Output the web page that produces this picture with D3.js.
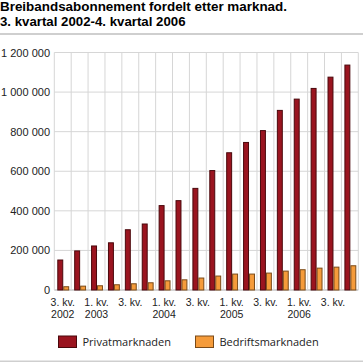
<!DOCTYPE html>
<html>
<head>
<meta charset="utf-8">
<script src="https://cdn.jsdelivr.net/npm/d3@7/dist/d3.min.js"></script>
<style>
	body { margin: 0; background: #fff; }
	text { font-family: 'Open Sans', sans-serif; }
	.tick-label, .title { font-family: 'Liberation Sans', Arial, sans-serif; }
</style>
</head>
<body>
<div id="chart"></div>
<script>
const quarters = ['2002K3', '2002K4', '2003K1', '2003K2', '2003K3', '2003K4', '2004K1', '2004K2', '2004K3',
	'2004K4', '2005K1', '2005K2', '2005K3', '2005K4', '2006K1', '2006K2', '2006K3', '2006K4']
const privat = [154000, 200000, 225000, 241000, 307000, 336000, 429000, 454000, 516000,
	606000, 696000, 748000, 808000, 910000, 967000, 1021000, 1078000, 1139000]
const bedrift = [19000, 22000, 24000, 29000, 34000, 39000, 49000, 54000, 63000,
	73000, 83000, 83000, 88000, 98000, 105000, 113000, 118000, 125000]
const seriesNames = ['Privatmarknaden', 'Bedriftsmarknaden']
const yTicks = [0, 200000, 400000, 600000, 800000, 1000000, 1200000]

const colors = { fill: ['#9a141f', '#f59b3a'], stroke: ['#4a080c', '#7a4a18'] }

const width = 363, height = 363
const svg = d3.select('#chart').append('svg').attr('width', width).attr('height', height)

// title
svg.append('text').attr('class', 'title').attr('x', 0).attr('y', 11.3).attr('font-weight', 'bold').attr('font-size', '12.6px')
	.attr('textLength', 287).attr('lengthAdjust', 'spacingAndGlyphs')
	.text('Breibandsabonnement fordelt etter marknad.')
svg.append('text').attr('class', 'title').attr('x', 0).attr('y', 26.3).attr('font-weight', 'bold').attr('font-size', '12.6px')
	.attr('textLength', 185.5).attr('lengthAdjust', 'spacingAndGlyphs')
	.text('3. kvartal 2002-4. kvartal 2006')
svg.append('rect').attr('x', 0).attr('y', 33).attr('width', width).attr('height', 2).attr('fill', '#cfcfcf')

const plotLeft = 54.3, plotRight = 358.3, plotTop = 52.5, plotBottom = 290

const x0 = d3.scaleBand().domain(quarters).range([plotLeft, plotRight])
const x1 = d3.scaleBand().domain(seriesNames).range([0, x0.bandwidth()]).paddingOuter(0.42).align(0.6)
const y = d3.scaleLinear().domain([0, 1200000]).range([plotBottom, plotTop])

// grid
const g = svg.append('g')
g.selectAll('line.h').data(yTicks).enter().append('line')
	.attr('x1', plotLeft).attr('x2', plotRight)
	.attr('y1', (d) => y(d)).attr('y2', (d) => y(d))
	.attr('stroke', (d) => (d === 0 ? '#aaa' : '#d6d6d6')).attr('stroke-width', 1)
g.selectAll('line.v').data(quarters.concat(['end'])).enter().append('line')
	.attr('x1', (d, i) => (i < quarters.length ? x0(d) : plotRight))
	.attr('x2', (d, i) => (i < quarters.length ? x0(d) : plotRight))
	.attr('y1', plotTop).attr('y2', plotBottom)
	.attr('stroke', '#d6d6d6').attr('stroke-width', 1)

// y axis labels
const yAxis = d3.axisLeft(y).tickValues(yTicks).tickSize(0).tickPadding(4)
	.tickFormat((d) => d3.format(',')(d).replace(/,/g, ' '))
svg.append('g').attr('transform', `translate(${plotLeft - 0.3},0)`).call(yAxis)
	.call((s) => s.select('.domain').remove())
	.selectAll('text').attr('class', 'tick-label').attr('font-size', '11px').attr('fill', '#222')

// bars
const rows = quarters.map((q, i) => ({ q, values: [privat[i], bedrift[i]] }))
const groups = svg.append('g').selectAll('g').data(rows).enter().append('g')
	.attr('transform', (d) => `translate(${x0(d.q)},0)`)
groups.selectAll('rect').data((d) => d.values.map((v, k) => ({ v, k }))).enter().append('rect')
	.attr('x', (d) => x1(seriesNames[d.k]) + 0.5)
	.attr('y', (d) => y(d.v) + 0.5)
	.attr('width', x1.bandwidth() - 1)
	.attr('height', (d) => plotBottom - y(d.v) - 0.5)
	.attr('fill', (d) => colors.fill[d.k])
	.attr('stroke', (d) => colors.stroke[d.k]).attr('stroke-width', 1)

// x labels
const xAxis = svg.append('g').attr('font-size', '10.5px').attr('fill', '#222').attr('text-anchor', 'middle')
quarters.forEach((q, i) => {
	if (i % 2 !== 0) return
	const yr = q.slice(0, 4), k = q.slice(5)
	const cx = x0(q) + x0.bandwidth() / 2
	xAxis.append('text').attr('class', 'tick-label').attr('x', cx).attr('y', 305.5).text(k + '. kv.')
	if (k === '1' || i === 0) xAxis.append('text').attr('class', 'tick-label').attr('x', cx).attr('y', 317.8).text(yr)
})

// legend
const lx = [58.5, 195.5]
seriesNames.forEach((name, k) => {
	svg.append('rect').attr('x', lx[k]).attr('y', 336).attr('width', 18).attr('height', 11.5)
		.attr('fill', colors.fill[k]).attr('stroke', colors.stroke[k]).attr('stroke-width', 1)
	svg.append('text').attr('x', lx[k] + 24).attr('y', 346).attr('font-size', '11px').attr('fill', '#222').text(name)
})

svg.append('rect').attr('x', 0).attr('y', 360.5).attr('width', width).attr('height', 1.5).attr('fill', '#cfcfcf')
</script>
</body>
</html>
